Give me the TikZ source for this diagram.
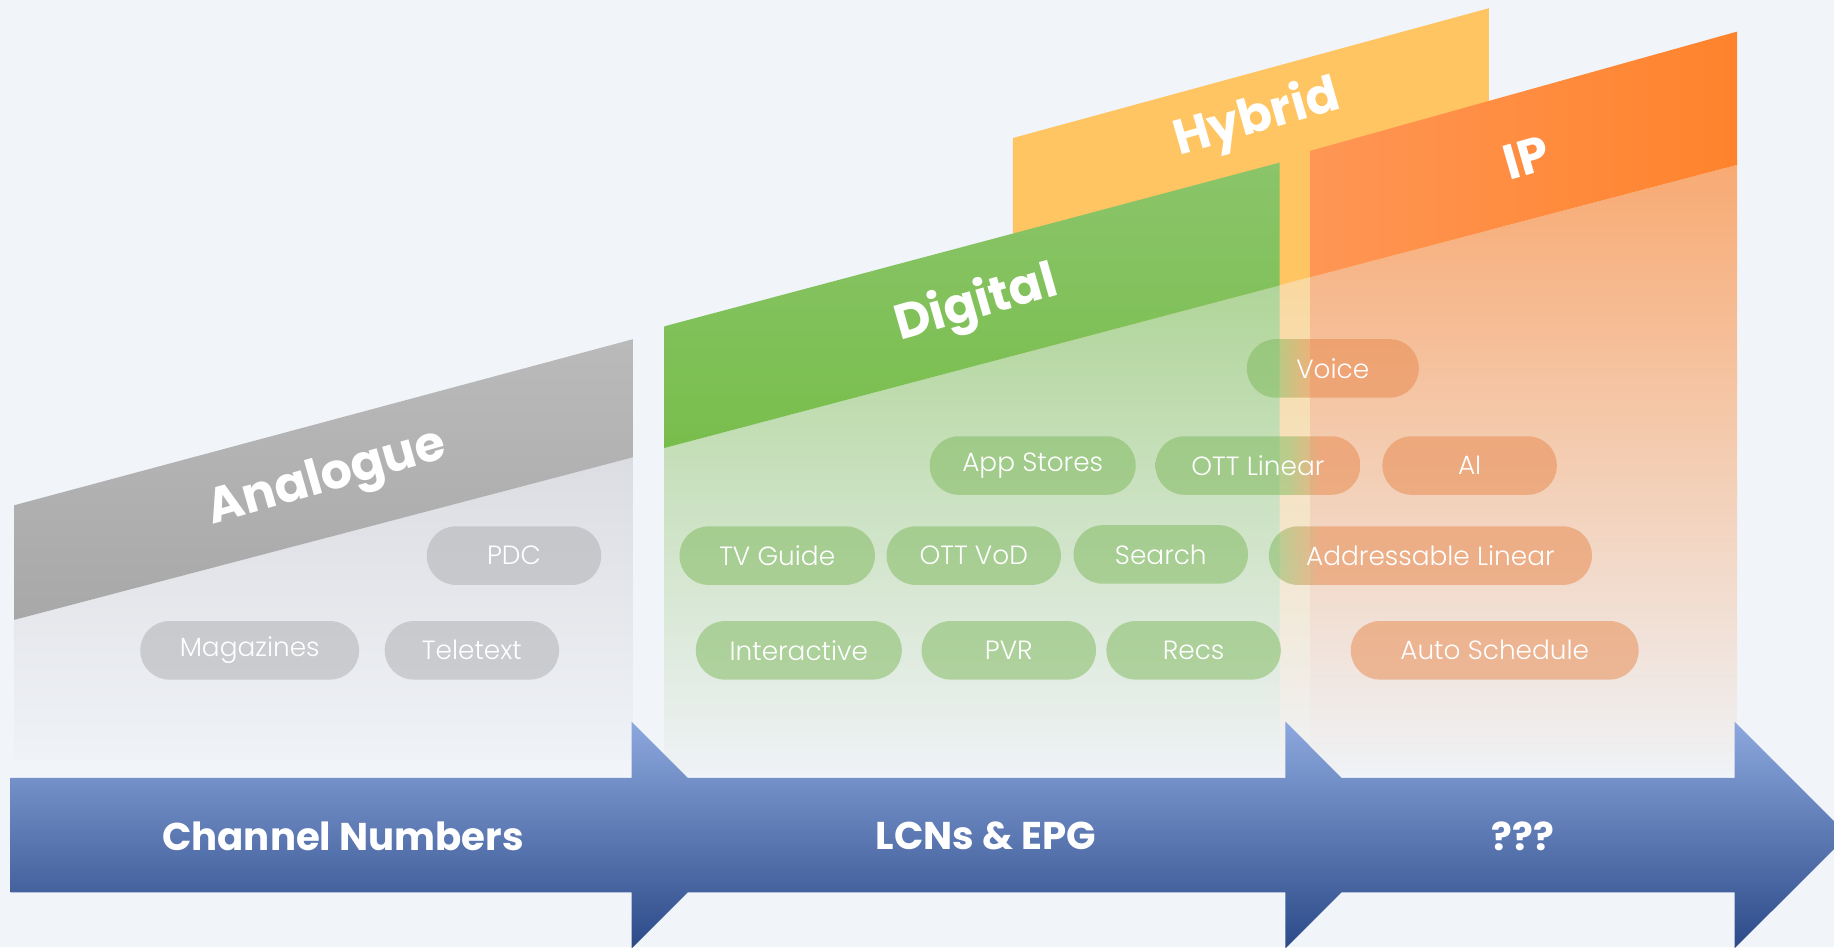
\documentclass[tikz,border=0pt]{standalone}
\usepackage{fontspec}
\setmainfont{Poppins}
\newfontfamily\pillfont{Poppins Light}
\usepackage{xcolor}

\definecolor{bgcol}{RGB}{241,245,250}
\definecolor{fadecol}{RGB}{239,242,246}
\definecolor{anaheadt}{RGB}{186,186,186}
\definecolor{anaheadb}{RGB}{168,168,168}
\definecolor{anabody}{RGB}{220,221,226}
\definecolor{digheadt}{RGB}{139,196,106}
\definecolor{digheadb}{RGB}{120,190,76}
\definecolor{digbody}{RGB}{176,213,153}
\definecolor{digmid}{RGB}{200,226,186}
\definecolor{hybhead}{RGB}{255,197,98}
\definecolor{hybbody}{RGB}{250,214,150}
\definecolor{ipheadl}{RGB}{255,150,85}
\definecolor{ipheadr}{RGB}{255,131,44}
\definecolor{ipbody}{RGB}{248,170,115}
\definecolor{ipmid}{RGB}{246,202,176}
\definecolor{pillgray}{RGB}{172,173,176}
\definecolor{pillgreen}{RGB}{125,184,90}
\definecolor{pillorange}{RGB}{232,135,74}
\definecolor{bandtop}{RGB}{140,168,222}
\definecolor{bandmid}{RGB}{74,120,200}
\definecolor{bandbot}{RGB}{44,74,136}

\pgfdeclarehorizontalshading{voiceshade}{100bp}{color(0bp)=(pillgreen); color(34bp)=(pillgreen); color(44bp)=(pillorange); color(100bp)=(pillorange)}
\pgfdeclarehorizontalshading{linearshade}{100bp}{color(0bp)=(pillgreen); color(57bp)=(pillgreen); color(65bp)=(pillorange); color(100bp)=(pillorange)}
\pgfdeclarehorizontalshading{addrshade}{100bp}{color(0bp)=(pillgreen); color(26bp)=(pillgreen); color(33bp)=(pillorange); color(100bp)=(pillorange)}

\begin{document}
\begin{tikzpicture}[x=0.01cm,y=-0.01cm,
  pill/.style={rounded corners=0.29cm, minimum height=0.585cm, inner sep=0pt,
    fill opacity=0.5, text opacity=1, text=white,
    font=\pillfont\fontsize{7.5}{9}\selectfont},
  graypill/.style={pill, fill=pillgray},
  greenpill/.style={pill, fill=pillgreen},
  orangepill/.style={pill, fill=pillorange},
  head/.style={text=white, font=\bfseries\fontsize{14}{16}\selectfont, rotate=16},
  bandlabel/.style={text=white, font=\bfseries\fontsize{11}{13}\selectfont}]
\useasboundingbox (0,0) rectangle (1834,947);
\clip (0,0) rectangle (1834,947);
\fill[bgcol] (0,0) rectangle (1834,947);

%analogue
\shade[top color=anabody, bottom color=fadecol] (14,619.9) -- (632.8,457.3) -- (632.8,760) -- (14,760) -- cycle;
\shade[top color=anaheadt, bottom color=anaheadb] (14,505.3) -- (632.8,339.2) -- (632.8,457.3) -- (14,619.9) -- cycle;
\node[head] (analogue) at (327.5,480) {Analogue};

%hybrid
\shade[top color=hybbody, bottom color=fadecol] (1012.9,355.3) -- (1488.9,230.1) -- (1488.9,775) -- (1012.9,775) -- cycle;
\fill[hybhead] (1012.9,138) -- (1488.9,8.2) -- (1488.9,230.1) -- (1012.9,355.3) -- cycle;
\node[head] (hybrid) at (1257,119) {Hybrid};

%digital
\shade[top color=digbody, middle color=digmid, bottom color=fadecol] (664.3,448) -- (1279.6,285.4) -- (1279.6,775) -- (664.3,775) -- cycle;
\shade[top color=digheadt, bottom color=digheadb] (664.3,326.3) -- (1279.6,162.6) -- (1279.6,285.4) -- (664.3,448) -- cycle;
\node[head] (digital) at (976.6,305) {Digital};

%ip
\shade[top color=ipbody, middle color=ipmid, bottom color=fadecol] (1310,277.2) -- (1737,164.9) -- (1737,775) -- (1310,775) -- cycle;
\shade[left color=ipheadl, right color=ipheadr] (1310,150.9) -- (1737,31.6) -- (1737,164.9) -- (1310,277.2) -- cycle;
\node[head] (ip) at (1526,158) {IP};

%pills
\node[graypill, minimum width=1.743cm] (pdc) at (514,555.6) {PDC};
\node[graypill, minimum width=2.187cm] (magazines) at (249.7,650.3) {Magazines};
\node[graypill, minimum width=1.743cm] (teletext) at (471.9,650.3) {Teletext};

\node[greenpill, minimum width=2.059cm] (appstores) at (1032.7,465.5) {App Stores};
\node[pill, shading=linearshade, shade, minimum width=2.047cm] (ottlinear) at (1257.9,465.5) {OTT Linear};
\node[greenpill, minimum width=1.953cm] (tvguide) at (777.2,555.6) {TV Guide};
\node[greenpill, minimum width=1.743cm] (ottvod) at (973.7,555.6) {OTT VoD};
\node[greenpill, minimum width=1.743cm] (search) at (1160.8,554.4) {Search};
\node[greenpill, minimum width=2.059cm] (interactive) at (798.8,650.3) {Interactive};
\node[greenpill, minimum width=1.743cm] (pvr) at (1008.8,650.3) {PVR};
\node[greenpill, minimum width=1.743cm] (recs) at (1193.6,650.3) {Recs};

\node[pill, shading=voiceshade, shade, minimum width=1.719cm] (voice) at (1332.8,368.4) {Voice};
\node[orangepill, minimum width=1.743cm] (ai) at (1469.6,465.5) {AI};
\node[pill, shading=addrshade, shade, minimum width=3.228cm] (addressable) at (1430.4,555.6) {Addressable Linear};
\node[orangepill, minimum width=2.877cm] (autoschedule) at (1494.7,650.3) {Auto Schedule};

%band
\shade[top color=bandtop, middle color=bandmid, bottom color=bandbot]
  (10.5,777.8) -- (631.6,777.8) -- (631.6,721.6) -- (687.7,777.8) -- (1285.4,777.8)
  -- (1285.4,721.6) -- (1341.5,777.8) -- (1734.5,777.8) -- (1734.5,721.6) -- (1848,835)
  -- (1734.5,948.4) -- (1734.5,892.4) -- (1341.5,892.4) -- (1285.4,948.4) -- (1285.4,892.4)
  -- (687.7,892.4) -- (631.6,948.4) -- (631.6,892.4) -- (10.5,892.4) -- cycle;
\node[bandlabel] (channels) at (343,836) {Channel Numbers};
\node[bandlabel] (lcns) at (986,836) {LCNs \& EPG};
\node[bandlabel] (unknown) at (1523,836) {???};
\end{tikzpicture}
\end{document}
